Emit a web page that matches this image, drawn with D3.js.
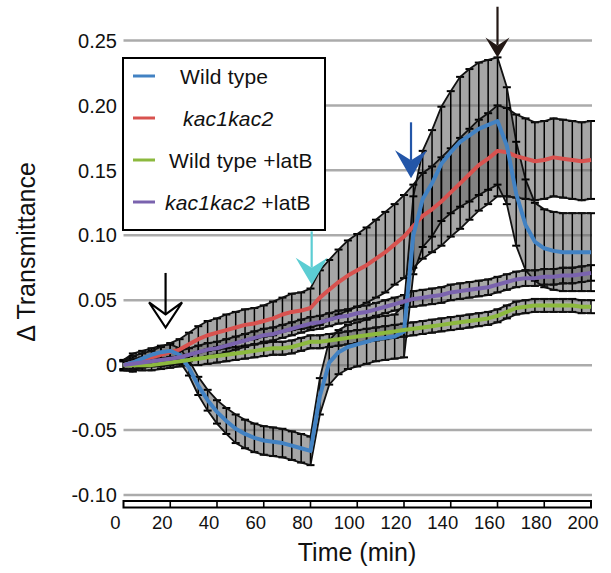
<!DOCTYPE html>
<html lang="en">
<head>
<meta charset="UTF-8">
<title>Transmittance time course</title>
<script src="https://d3js.org/d3.v7.min.js"></script>
<style>
  body { margin: 0; background: #fff; font-family: "Liberation Sans", Arial, Helvetica, sans-serif; }
  svg { display: block; }
  .grid line { stroke: #ababab; stroke-width: 2.5; }
  .ylab { font-size: 20px; fill: #111; }
  .xlab { font-size: 18.5px; fill: #111; }
  .title { font-size: 25px; fill: #111; }
  .legend text { font-size: 21px; letter-spacing: 0.2px; fill: #111; }
</style>
</head>
<body>
<div id="chart"></div>
<script>
// time points (min)
const times = [0,4,8,12,16,20,24,28,32,36,40,44,48,52,56,60,64,68,72,76,80,84,88,92,96,100,
  104,108,112,116,120,124,128,132,136,140,144,148,152,156,160,164,168,172,176,180,184,188,192,196,200];

// Wild type
const wtMean = [0,0.002,0.005,0.008,0.010,0.011,0.008,-0.002,-0.016,-0.027,-0.036,-0.043,-0.049,-0.053,
  -0.056,-0.058,-0.059,-0.060,-0.062,-0.064,-0.066,-0.024,0.002,0.010,0.014,0.016,0.018,0.020,0.021,0.022,
  0.026,0.100,0.128,0.140,0.155,0.164,0.172,0.177,0.182,0.185,0.188,0.169,0.132,0.108,0.095,0.090,0.088,
  0.087,0.087,0.087,0.087];
const wtErr = [0.004,0.007,0.006,0.005,0.005,0.005,0.005,0.006,0.007,0.008,0.009,0.010,0.011,0.011,0.011,
  0.011,0.011,0.011,0.011,0.011,0.011,0.014,0.017,0.017,0.017,0.017,0.017,0.017,0.017,0.017,0.020,0.030,
  0.037,0.041,0.044,0.047,0.050,0.051,0.051,0.050,0.049,0.045,0.040,0.035,0.030,0.030,0.030,0.030,0.030,
  0.030,0.030];

// kac1kac2
const kacMean = [0,0.002,0.004,0.006,0.008,0.010,0.012,0.016,0.020,0.023,0.025,0.027,0.029,0.031,0.032,
  0.034,0.036,0.039,0.041,0.042,0.044,0.052,0.058,0.064,0.069,0.073,0.077,0.082,0.087,0.093,0.099,0.107,
  0.115,0.120,0.126,0.133,0.140,0.147,0.154,0.159,0.165,0.164,0.161,0.159,0.157,0.158,0.160,0.159,0.158,
  0.157,0.158];
const kacErr = [0.004,0.005,0.005,0.005,0.006,0.007,0.008,0.009,0.010,0.011,0.011,0.012,0.012,0.012,0.012,
  0.012,0.013,0.013,0.014,0.014,0.015,0.021,0.023,0.025,0.027,0.028,0.029,0.030,0.031,0.031,0.032,0.032,
  0.033,0.033,0.034,0.034,0.035,0.035,0.035,0.035,0.035,0.034,0.032,0.031,0.030,0.030,0.030,0.030,0.030,
  0.030,0.030];

// Wild type +latB
const wtLatMean = [0,0,0,0,0.001,0.002,0.003,0.004,0.005,0.006,0.007,0.008,0.009,0.010,0.011,0.012,0.013,
  0.013,0.014,0.016,0.018,0.018,0.019,0.020,0.021,0.022,0.023,0.024,0.025,0.026,0.027,0.028,0.029,0.030,
  0.031,0.032,0.033,0.034,0.035,0.036,0.038,0.041,0.044,0.045,0.046,0.046,0.046,0.046,0.046,0.045,0.045];
const wtLatErr = [0.003,0.004,0.004,0.004,0.004,0.004,0.004,0.004,0.005,0.005,0.005,0.005,0.005,0.005,
  0.005,0.005,0.005,0.005,0.005,0.005,0.005,0.005,0.005,0.005,0.005,0.005,0.005,0.005,0.005,0.005,0.005,
  0.005,0.005,0.005,0.005,0.005,0.005,0.005,0.005,0.005,0.005,0.005,0.005,0.005,0.005,0.005,0.005,0.005,
  0.005,0.005,0.005];

// kac1kac2 +latB
const kacLatMean = [0,0.001,0.002,0.003,0.004,0.005,0.006,0.008,0.010,0.012,0.013,0.015,0.017,0.019,0.021,
  0.023,0.024,0.026,0.028,0.030,0.032,0.033,0.035,0.037,0.038,0.040,0.041,0.043,0.045,0.047,0.049,0.051,
  0.052,0.053,0.054,0.056,0.057,0.058,0.059,0.060,0.062,0.064,0.066,0.067,0.067,0.068,0.068,0.069,0.069,
  0.070,0.071];
const kacLatErr = [0.003,0.004,0.004,0.004,0.005,0.005,0.005,0.005,0.005,0.005,0.005,0.005,0.005,0.005,
  0.005,0.005,0.005,0.005,0.005,0.005,0.005,0.005,0.005,0.005,0.005,0.005,0.005,0.005,0.005,0.005,0.005,
  0.006,0.006,0.006,0.006,0.006,0.006,0.006,0.006,0.006,0.006,0.006,0.006,0.006,0.006,0.006,0.006,0.006,
  0.006,0.006,0.006];

const seriesNames = ["Wild type", "kac1kac2", "Wild type +latB", "kac1kac2 +latB"];
const seriesColors = ["#4282c3", "#d8524f", "#8cb93e", "#7a63ae"];

const xTicks = [0,20,40,60,80,100,120,140,160,180,200];
const yTicks = [0.25,0.20,0.15,0.10,0.05,0,-0.05,-0.10];
const yTickLabels = ["0.25","0.20","0.15","0.10","0.05","0","-0.05","-0.10"];

// arrows: time, top of shaft, tip (data units)
const arrowTimes = [18, 80.5, 123, 160];
const arrowTops = [0.071, 0.103, 0.187, 0.276];
const arrowTips = [0.029, 0.062, 0.144, 0.237];
const arrowColors = ["#fff", "#5ccdd3", "#2356a8", "#231815"];

const width = 611, height = 573;
const svg = d3.select("#chart").append("svg")
  .attr("width", width).attr("height", height);

const x = d3.scaleLinear().domain([0, 200]).range([123.5, 591]);
const y = d3.scaleLinear().domain([-0.10, 0.25]).range([495, 40.5]);

// gridlines
svg.append("g").attr("class", "grid")
  .selectAll("line").data(yTicks).enter().append("line")
  .attr("x1", x(0)).attr("x2", x(200) + 1)
  .attr("y1", d => y(d)).attr("y2", d => y(d));

svg.append("g").selectAll("text").data(yTicks).enter().append("text")
  .attr("class", "ylab")
  .attr("x", 117).attr("y", d => y(d)).attr("dy", "0.36em")
  .attr("text-anchor", "end")
  .text((d, i) => yTickLabels[i]);

// x axis box
const axisTop = 501, axisH = 6.5;
svg.append("rect")
  .attr("x", x(0)).attr("y", axisTop).attr("width", x(200) - x(0)).attr("height", axisH)
  .attr("fill", "#fff").attr("stroke", "#000").attr("stroke-width", 2);
svg.append("g").selectAll("line").data(xTicks.slice(1, -1)).enter().append("line")
  .attr("x1", d => x(d)).attr("x2", d => x(d))
  .attr("y1", axisTop).attr("y2", axisTop + axisH)
  .attr("stroke", "#000").attr("stroke-width", 1.6);
svg.append("g").selectAll("text").data(xTicks).enter().append("text")
  .attr("class", "xlab")
  .attr("x", d => x(d) - 8).attr("y", 529)
  .attr("text-anchor", "middle")
  .text(d => d);

svg.append("text").attr("class", "title")
  .attr("x", 357).attr("y", 561).attr("text-anchor", "middle")
  .text("Time (min)");
svg.append("text").attr("class", "title")
  .attr("transform", "translate(35,252) rotate(-90)")
  .attr("text-anchor", "middle")
  .text("\u0394 Transmittance");

// series
const series = [
  { mean: wtMean, err: wtErr },
  { mean: kacMean, err: kacErr },
  { mean: wtLatMean, err: wtLatErr },
  { mean: kacLatMean, err: kacLatErr }
].map((s, i) => ({
  name: seriesNames[i], color: seriesColors[i],
  pts: times.map((t, j) => ({ t: t, v: s.mean[j], e: s.err[j] }))
}));

const plot = svg.append("g");

// error bands + bars
const band = d3.area().x(d => x(d.t)).y0(d => y(d.v - d.e)).y1(d => y(d.v + d.e));
series.forEach(s => {
  plot.append("path").datum(s.pts).attr("d", band)
    .attr("fill", "#6a6a6a").attr("fill-opacity", 0.6);
});
series.forEach(s => {
  const g = plot.append("g").attr("stroke", "#000");
  g.selectAll(".bar").data(s.pts).enter().append("line")
    .attr("x1", d => x(d.t)).attr("x2", d => x(d.t))
    .attr("y1", d => y(d.v - d.e)).attr("y2", d => y(d.v + d.e))
    .attr("stroke-width", 1.5);
  ["upper", "lower"].forEach(side => {
    g.selectAll(".cap-" + side).data(s.pts).enter().append("line")
      .attr("x1", d => x(d.t) - 4).attr("x2", d => x(d.t) + 4)
      .attr("y1", d => y(side === "upper" ? d.v + d.e : d.v - d.e))
      .attr("y2", d => y(side === "upper" ? d.v + d.e : d.v - d.e))
      .attr("stroke-width", 2);
    plot.append("path").datum(s.pts)
      .attr("d", d3.line().x(d => x(d.t)).y(d => y(side === "upper" ? d.v + d.e : d.v - d.e)))
      .attr("fill", "none").attr("stroke", "#111").attr("stroke-width", 1.8);
  });
});

// mean lines (drawing order: red, blue, green, purple)
const line = d3.line().x(d => x(d.t)).y(d => y(d.v));
[1, 0, 2, 3].forEach(i => {
  plot.append("path").datum(series[i].pts).attr("d", line)
    .attr("fill", "none").attr("stroke", series[i].color)
    .attr("stroke-width", 4).attr("stroke-linejoin", "round");
});

// legend
const legend = svg.append("g").attr("class", "legend");
legend.append("rect").attr("x", 123).attr("y", 58).attr("width", 202).attr("height", 172)
  .attr("fill", "#fff").attr("stroke", "#000").attr("stroke-width", 2);
const legendY = [76, 118, 160, 202];
const legendTextX = [180, 183, 169, 165];
series.forEach((s, i) => {
  legend.append("line").attr("x1", 133).attr("x2", 155)
    .attr("y1", legendY[i]).attr("y2", legendY[i])
    .attr("stroke", s.color).attr("stroke-width", 3);
  const t = legend.append("text").attr("x", legendTextX[i]).attr("y", legendY[i]).attr("dy", "0.36em");
  if (s.name.startsWith("kac1kac2")) {
    t.append("tspan").attr("font-style", "italic").text("kac1kac2");
    const rest = s.name.slice(8);
    if (rest) t.append("tspan").text(rest);
  } else {
    t.text(s.name);
  }
});

// arrows
const arrowShapes = [
  { w: 33, h: 25, n: 12, open: true },
  { w: 32, h: 27, n: 10 },
  { w: 32, h: 28, n: 10 },
  { w: 24, h: 20, n: 8 }
];
arrowTimes.forEach((t, i) => {
  const ax = x(t), top = y(arrowTops[i]), tip = y(arrowTips[i]);
  const sh = arrowShapes[i];
  const stroke = sh.open ? "#000" : arrowColors[i];
  svg.append("line").attr("x1", ax).attr("x2", ax).attr("y1", top).attr("y2", tip - sh.h + sh.n)
    .attr("stroke", stroke).attr("stroke-width", 2.2);
  const p = d3.path();
  p.moveTo(ax, tip);
  p.lineTo(ax - sh.w / 2, tip - sh.h);
  p.lineTo(ax, tip - sh.h + sh.n);
  p.lineTo(ax + sh.w / 2, tip - sh.h);
  p.closePath();
  svg.append("path").attr("d", p.toString())
    .attr("fill", arrowColors[i])
    .attr("stroke", sh.open ? "#000" : "none")
    .attr("stroke-width", 2.2).attr("stroke-linejoin", "miter");
});
</script>
</body>
</html>
